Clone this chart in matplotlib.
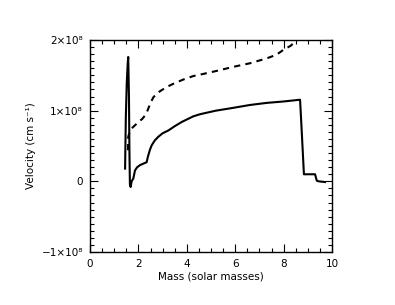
import numpy as np
import matplotlib.pyplot as plt
from matplotlib.ticker import MultipleLocator, FixedLocator

# solid curve: velocity profile (mass in solar masses, velocity in 1e8 cm/s)
m_solid = [1.45, 1.48, 1.52, 1.56, 1.58, 1.61, 1.63, 1.65, 1.68, 1.72, 1.79, 1.86,
           1.95, 2.07, 2.2, 2.34, 2.38, 2.41, 2.48, 2.55, 2.68, 2.82, 3.0, 3.24,
           3.5, 3.79, 4.27, 4.55, 5.2, 5.92, 6.6, 7.3, 8.0, 8.68, 8.72, 8.84,
           9.3, 9.37, 9.45, 9.71]
v_solid = [0.18, 0.9, 1.4, 1.68, 1.76, 1.2, 0.4, -0.05, -0.08, 0.0, 0.04, 0.155,
           0.2, 0.23, 0.25, 0.27, 0.33, 0.37, 0.45, 0.51, 0.58, 0.63, 0.68, 0.72,
           0.78, 0.84, 0.92, 0.95, 1.0, 1.04, 1.08, 1.11, 1.13, 1.155, 0.9, 0.1,
           0.1, 0.01, 0.0, -0.01]

# dashed curve
m_dash = [1.57, 1.58, 1.64, 1.72, 1.85, 2.0, 2.15, 2.27, 2.35, 2.41, 2.5, 2.62,
          2.78, 2.96, 3.2, 3.44, 3.85, 4.27, 4.55, 5.2, 5.92, 6.6, 7.3, 7.7,
          7.99, 8.3, 8.54]
v_dash = [0.44, 0.63, 0.70, 0.75, 0.79, 0.84, 0.88, 0.93, 0.98, 1.03, 1.11, 1.19,
          1.25, 1.29, 1.34, 1.38, 1.44, 1.49, 1.51, 1.56, 1.62, 1.67, 1.74, 1.79,
          1.86, 1.92, 2.0]

yticks = [-1, 0, 1, 2]
ylabels = ['\u22121\u00d710\u2078', '0', '1\u00d710\u2078', '2\u00d710\u2078']

fig = plt.figure(figsize=(3.95, 3.05), dpi=100)
ax = fig.add_axes([90/395, 1-252/305, 242/395, 212/305])

ax.plot(m_solid, v_solid, color='black', lw=1.5)
ax.plot(m_dash, v_dash, color='black', lw=1.5, ls=(0, (3, 2.5)))

ax.set_xlim(0, 10)
ax.set_ylim(-1, 2)
ax.xaxis.set_major_locator(MultipleLocator(2))
ax.xaxis.set_minor_locator(MultipleLocator(0.5))
ax.yaxis.set_major_locator(FixedLocator(yticks))
ax.yaxis.set_minor_locator(MultipleLocator(0.1))
ax.set_yticklabels(ylabels)
ax.tick_params(which='both', direction='in', top=True, right=True,
               labelsize=7.5, width=0.8, pad=5)
ax.tick_params(which='major', length=6)
ax.tick_params(which='minor', length=3)
for s in ax.spines.values():
    s.set_linewidth(1.0)

ax.set_xlabel('Mass (solar masses)', fontsize=7.5, labelpad=2)
ax.set_ylabel('Velocity (cm s\u207b\u00b9)', fontsize=7.5, labelpad=4)

fig.savefig('out.png', dpi=100)
